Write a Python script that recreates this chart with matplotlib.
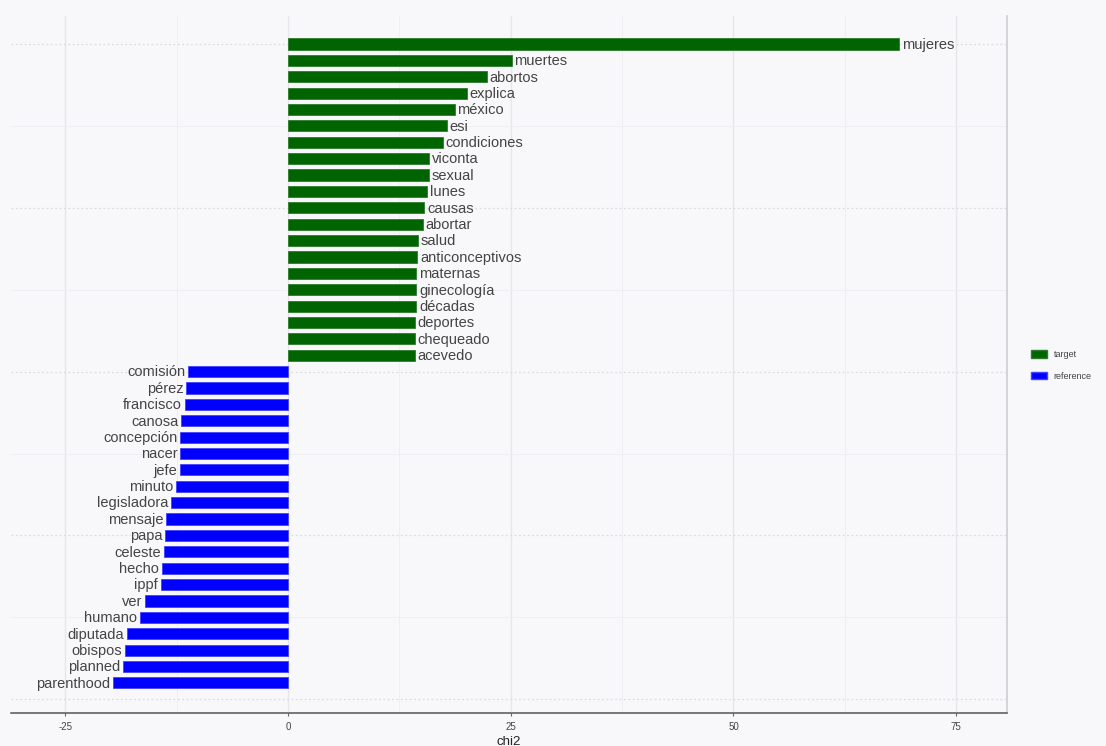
import matplotlib
matplotlib.use("Agg")
import matplotlib.pyplot as plt
from matplotlib.patches import Patch
import numpy as np

target_words = ["mujeres", "muertes", "abortos", "explica", "méxico", "esi", "condiciones",
                "viconta", "sexual", "lunes", "causas", "abortar", "salud", "anticonceptivos",
                "maternas", "ginecología", "décadas", "deportes", "chequeado", "acevedo"]
target_chi2 = [68.6, 25.1, 22.3, 20.1, 18.7, 17.8, 17.4, 15.8, 15.8, 15.6, 15.3, 15.1,
               14.6, 14.5, 14.4, 14.4, 14.4, 14.2, 14.2, 14.2]

reference_words = ["comisión", "pérez", "francisco", "canosa", "concepción", "nacer", "jefe",
                   "minuto", "legisladora", "mensaje", "papa", "celeste", "hecho", "ippf",
                   "ver", "humano", "diputada", "obispos", "planned", "parenthood"]
reference_chi2 = [-11.2, -11.4, -11.6, -12.0, -12.1, -12.1, -12.1, -12.6, -13.1, -13.7,
                  -13.8, -13.95, -14.2, -14.3, -16.0, -16.6, -18.1, -18.3, -18.5, -19.7]

x_ticks = [-25, 0, 25, 50, 75]
legend_labels = ["target", "reference"]

GREEN = "#006400"
BLUE = "#0000FF"
BG = "#F8F7FA"
TXT = "#444444"

plt.rcParams['font.family'] = ['Liberation Sans', 'DejaVu Sans']

fig = plt.figure(figsize=(11.06, 7.46), dpi=100)
fig.patch.set_facecolor(BG)
ax = fig.add_axes([0.0099, 0.0442, 0.9006, 0.9344])
ax.set_facecolor(BG)

n_t = len(target_words)
y_t = np.arange(n_t)
y_r = np.arange(len(reference_words)) + n_t

ax.set_xlim(-31.1, 80.7)
ax.set_ylim(40.84, -1.71)

# grid
for xv in [-25, 0, 25, 50, 75]:
    ax.axvline(xv, color="#E8E6EA", lw=1.0, zorder=0)
for xv in [-12.5, 12.5, 37.5, 62.5]:
    ax.axvline(xv, color="#F0EEF2", lw=0.7, zorder=0)
for yv in [0, 10, 20, 30, 40]:
    ax.axhline(yv, color="#DDDBE0", lw=0.9, ls=(0, (1.5, 2)), zorder=0)
for yv in [5, 15, 25, 35]:
    ax.axhline(yv, color="#F0EEF2", lw=0.7, zorder=0)

ax.barh(y_t, target_chi2, height=0.68, color=GREEN, edgecolor="#2E7D2E", linewidth=0.6, zorder=2)
ax.barh(y_r, reference_chi2, height=0.68, color=BLUE, edgecolor="#4444FF", linewidth=0.6, zorder=2)

for y, v, w in zip(y_t, target_chi2, target_words):
    ax.text(v + 0.3, y + 0.05, w, ha="left", va="center", fontsize=10.5, color=TXT, zorder=3)
for y, v, w in zip(y_r, reference_chi2, reference_words):
    ax.text(v - 0.3, y + 0.05, w, ha="right", va="center", fontsize=10.5, color=TXT, zorder=3)

ax.set_xticks(x_ticks)
ax.set_xticklabels([str(t) for t in x_ticks], fontsize=7, color=TXT)
ax.tick_params(axis="x", length=2.5, color="#666666", pad=4)
ax.set_yticks([])
ax.set_xlabel("chi2", fontsize=9.5, color="#222222", labelpad=3)

for s in ["top", "left"]:
    ax.spines[s].set_visible(False)
ax.spines["bottom"].set_color("#555555")
ax.spines["bottom"].set_linewidth(1.1)
ax.spines["right"].set_color("#D0CED4")
ax.spines["right"].set_linewidth(1.2)

handles = [Patch(facecolor=GREEN, edgecolor="#2E7D2E"), Patch(facecolor=BLUE, edgecolor="#4444FF")]
leg = fig.legend(handles, legend_labels, loc="center left", bbox_to_anchor=(0.925, 0.510),
                 frameon=False, fontsize=6.5, handlelength=1.7, handleheight=0.95,
                 labelspacing=1.35, handletextpad=0.8)
for t in leg.get_texts():
    t.set_color(TXT)

fig.savefig("out.png", dpi=100, facecolor=BG)
